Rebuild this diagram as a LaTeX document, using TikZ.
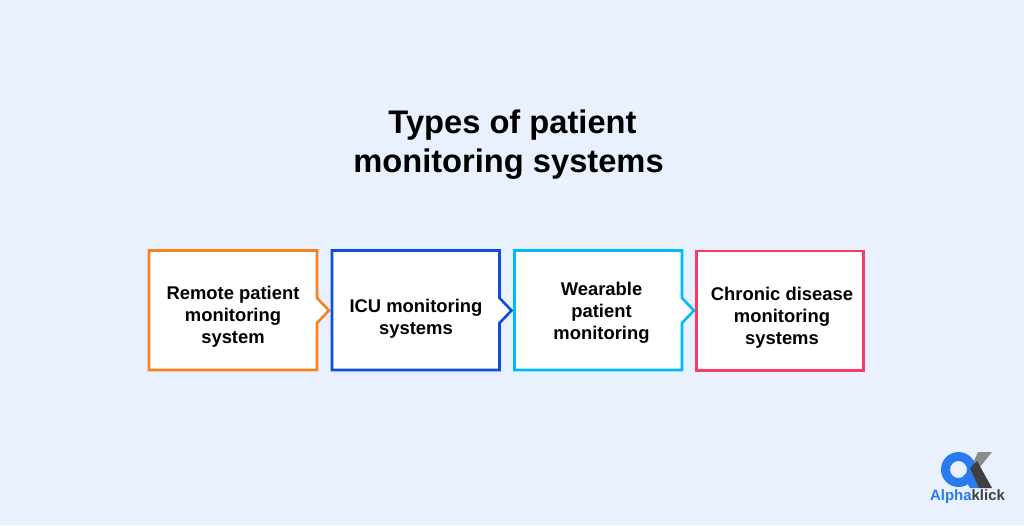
\documentclass[tikz,border=0pt]{standalone}
\usepackage{fontspec}
\setmainfont{Liberation Sans}
\definecolor{bg}{HTML}{E9F1FE}
\definecolor{corange}{HTML}{F9801B}
\definecolor{cblue}{HTML}{0D4FDC}
\definecolor{ccyan}{HTML}{00B9FC}
\definecolor{cred}{HTML}{F93A63}
\definecolor{logoblue}{HTML}{2B7BF0}
\definecolor{logodark}{HTML}{3F3F3F}
\definecolor{logogray}{HTML}{8C8C8C}
\tikzset{
  panel/.style={draw=#1,line width=1.95pt,fill=white,miter limit=10},
  label/.style={font=\bfseries\fontsize{13.8}{16.5}\selectfont,align=center,text=black,inner sep=0pt},
  heading/.style={font=\bfseries\fontsize{24.5}{29.2}\selectfont,align=center,text=black,inner sep=0pt}
}
\newcommand{\tipbox}[3]{%
  \draw[panel=#3] (#1,-250.5) -- (#2,-250.5) -- (#2,-298) -- (#2+12,-310.5) -- (#2,-323) -- (#2,-370) -- (#1,-370) -- cycle;}
\begin{document}
\begin{tikzpicture}[x=0.75pt,y=0.75pt]
\useasboundingbox (0,0) rectangle (1024,-525);
\fill[bg] (0,0) rectangle (1024,-525);
\node[heading] (title) at (508.5,-145) {\hspace*{6pt}Types of patient\\monitoring systems};
\tipbox{149}{317}{corange}
\tipbox{332}{499.5}{cblue}
\tipbox{514.5}{682}{ccyan}
\draw[panel=cred] (696.4,-250.8) rectangle (863.6,-370.3);
\node[label] (a) at (233,-317) {Remote patient\\monitoring\\system};
\node[label] (b) at (416,-318.5) {ICU monitoring\\systems};
\node[label] (c) at (601.5,-313) {Wearable\\patient\\monitoring};
\node[label] (d) at (782,-318) {Chronic disease\\monitoring\\systems};
% logo
\fill[logogray] (978,-452) -- (992,-452) -- (976,-472) -- (971,-467) -- cycle;
\fill[logoblue,even odd rule] (958.5,-469.5) circle (17.5) (958.5,-469.5) circle (8.5);
\fill[logoblue] (963,-476) -- (972,-470) -- (979,-488) -- (970,-488) -- cycle;
\fill[logodark] (970,-468) -- (977,-461) -- (992,-488) -- (979,-488) -- cycle;
\node[font=\bfseries\fontsize{11.2}{12}\selectfont,inner sep=0pt] (logo) at (967.5,-496.5) {\textcolor{logoblue}{Alpha}\textcolor{logodark}{klick}};
\end{tikzpicture}
\end{document}
